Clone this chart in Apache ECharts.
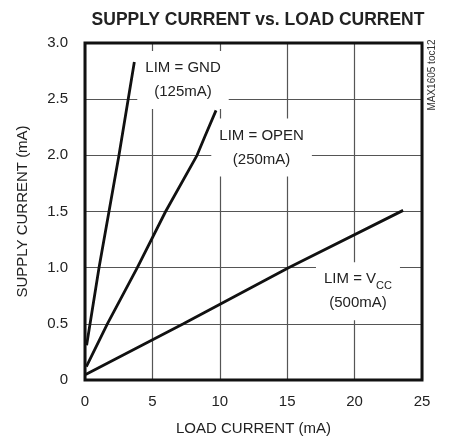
<!DOCTYPE html>
<html>
<head>
<meta charset="utf-8">
<script src="https://cdn.jsdelivr.net/npm/echarts@6/dist/echarts.min.js"></script>
<style>
  html, body { margin: 0; padding: 0; background: #fff; }
  #chart { width: 449px; height: 443px; }
</style>
</head>
<body>
<div id="chart"></div>
<script>
// data [load mA, supply mA]
const limGnd = [[0.12, 0.31], [1.04, 1.0], [1.78, 1.5], [2.52, 2.0], [3.66, 2.83]]
const limOpen = [[0.1, 0.12], [1.66, 0.5], [3.88, 1.0], [5.98, 1.5], [8.31, 2.0], [8.9, 2.17], [9.72, 2.4]]
const limVcc = [[0.05, 0.05], [7.3, 0.5], [15.1, 1.0], [23.6, 1.51]]

const xTicks = ['0', '5', '10', '15', '20', '25']
const yTicks = ['0', '0.5', '1.0', '1.5', '2.0', '2.5', '3.0']

const font = 'Arial, "Liberation Sans", sans-serif'
const chart = echarts.init(document.getElementById('chart'))

function lineSeries(name, data) {
  return {
    name: name,
    type: 'line',
    data: data,
    symbol: 'none',
    silent: true,
    z: 3,
    lineStyle: { color: '#111', width: 2.8 }
  }
}

// text boxes with white background, covering the grid like the original
function note(coord, text) {
  return {
    coord: coord,
    symbolSize: 0,
    label: {
      show: true,
      position: 'inside',
      formatter: text,
      color: '#222',
      fontFamily: font,
      fontSize: 15,
      lineHeight: 24,
      align: 'center',
      backgroundColor: '#fff',
      padding: [5, 8, 5, 8],
      rich: {
        n: { fontFamily: font, fontSize: 15, color: '#222', lineHeight: 24 },
        sub: { fontFamily: font, fontSize: 11, color: '#222', lineHeight: 24, verticalAlign: 'bottom', padding: [6, 0, 0, 0] }
      }
    }
  }
}

const option = {
  animation: false,
  backgroundColor: '#fff',
  title: {
    text: 'SUPPLY CURRENT vs. LOAD CURRENT',
    left: 253,
    top: 6,
    textAlign: 'center',
    textStyle: { fontFamily: font, fontSize: 17.5, fontWeight: 'bold', color: '#222' }
  },
  grid: {
    left: 85, top: 43, right: 27, bottom: 63,
    show: true,
    borderColor: '#111',
    borderWidth: 3,
    z: 4
  },
  xAxis: {
    type: 'value',
    min: 0, max: 25, interval: 5,
    name: 'LOAD CURRENT (mA)',
    nameLocation: 'middle',
    nameGap: 41,
    nameTextStyle: { fontFamily: font, fontSize: 15, color: '#222' },
    axisLine: { show: false },
    axisTick: { show: false },
    axisLabel: {
      margin: 14,
      fontFamily: font, fontSize: 15, color: '#222',
      formatter: function (v) { return xTicks[Math.round(v / 5)] }
    },
    splitLine: { lineStyle: { color: '#555', width: 1.2 } }
  },
  yAxis: {
    type: 'value',
    min: 0, max: 3, interval: 0.5,
    name: 'SUPPLY CURRENT (mA)',
    nameLocation: 'middle',
    nameGap: 55,
    nameTextStyle: { fontFamily: font, fontSize: 15, color: '#222' },
    axisLine: { show: false },
    axisTick: { show: false },
    axisLabel: {
      margin: 17,
      fontFamily: font, fontSize: 15, color: '#222',
      formatter: function (v) { return yTicks[Math.round(v / 0.5)] }
    },
    splitLine: { lineStyle: { color: '#555', width: 1.2 } }
  },
  graphic: [{
    type: 'text',
    x: 432, y: 75,
    rotation: Math.PI / 2,
    style: {
      text: 'MAX1605 toc12',
      font: '10px ' + font,
      fill: '#333',
      align: 'center',
      verticalAlign: 'middle'
    }
  }],
  series: [
    lineSeries('LIM = GND', limGnd),
    lineSeries('LIM = OPEN', limOpen),
    Object.assign(lineSeries('LIM = VCC', limVcc), {
      markPoint: {
        silent: true,
        z: 2,
        data: [
          note([7.27, 2.67], 'LIM = GND\n(125mA)'),
          note([13.1, 2.07], 'LIM = OPEN\n(250mA)'),
          note([20.25, 0.79], '{n|LIM = V}{sub|CC}\n{n|(500mA)}')
        ]
      }
    })
  ]
}

chart.setOption(option)
</script>
</body>
</html>
